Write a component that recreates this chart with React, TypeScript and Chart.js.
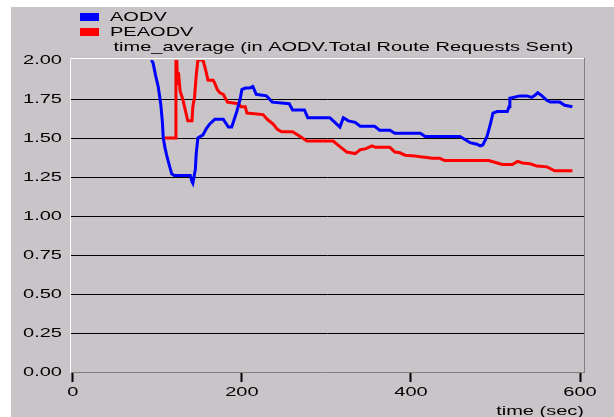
import { useEffect, useRef } from 'react';
import { Chart, registerables } from 'chart.js';

Chart.register(...registerables);

// ---- data ----
const aodvX = [93, 95, 98, 101, 104, 106, 107, 109, 111, 114, 117, 120, 139, 141, 142, 143, 145, 146, 148, 154, 158, 162, 168, 178, 184, 188, 194, 198, 200, 204, 209, 213, 217, 229, 236, 256, 260, 274, 278, 304, 310, 316, 320, 326, 334, 340, 357, 363, 375, 381, 411, 417, 458, 464, 470, 478, 482, 485, 490, 494, 497, 502, 514, 516, 517, 529, 537, 543, 547, 550, 555, 561, 565, 576, 582, 591];
const aodvY = [2.0, 1.98, 1.9, 1.83, 1.72, 1.6, 1.5, 1.44, 1.39, 1.33, 1.27, 1.26, 1.26, 1.22, 1.21, 1.24, 1.3, 1.4, 1.5, 1.52, 1.56, 1.59, 1.62, 1.62, 1.57, 1.57, 1.67, 1.75, 1.81, 1.82, 1.82, 1.83, 1.78, 1.77, 1.73, 1.72, 1.68, 1.68, 1.63, 1.63, 1.6, 1.57, 1.63, 1.61, 1.6, 1.575, 1.575, 1.55, 1.55, 1.53, 1.53, 1.51, 1.51, 1.49, 1.47, 1.46, 1.45, 1.455, 1.51, 1.59, 1.66, 1.67, 1.67, 1.7, 1.755, 1.77, 1.77, 1.76, 1.775, 1.79, 1.77, 1.74, 1.73, 1.73, 1.71, 1.7];
const peaodvX = [107, 121, 122, 123, 124, 125, 127, 130, 133, 136, 141, 142, 144, 146, 148, 154, 157, 160, 166, 168, 171, 174, 178, 182, 183, 196, 199, 204, 206, 225, 230, 237, 242, 247, 260, 269, 277, 308, 316, 324, 334, 340, 346, 354, 358, 375, 381, 387, 393, 405, 411, 419, 425, 434, 440, 492, 502, 508, 520, 526, 532, 541, 549, 561, 570, 591];
const peaodvY = [1.5, 1.5, 2.0, 2.0, 1.84, 1.92, 1.8, 1.75, 1.68, 1.61, 1.61, 1.7, 1.76, 1.9, 2.0, 2.0, 1.94, 1.87, 1.87, 1.85, 1.81, 1.79, 1.78, 1.74, 1.73, 1.72, 1.7, 1.7, 1.66, 1.65, 1.62, 1.59, 1.555, 1.54, 1.54, 1.51, 1.48, 1.48, 1.445, 1.41, 1.4, 1.425, 1.43, 1.45, 1.44, 1.44, 1.41, 1.405, 1.39, 1.385, 1.38, 1.375, 1.37, 1.37, 1.355, 1.355, 1.34, 1.33, 1.33, 1.35, 1.34, 1.335, 1.32, 1.315, 1.29, 1.29];

const seriesNames = ['AODV', 'PEAODV'];
const seriesColors = ['#0000ff', '#ff0000'];
const xTickValues = [0, 200, 400, 600];
const yTickValues = [0, 0.25, 0.5, 0.75, 1.0, 1.25, 1.5, 1.75, 2.0];
const chartTitle = 'time_average (in AODV.Total Route Requests Sent)';
const xAxisTitle = 'time (sec)';

const FONT = "'Liberation Sans', Arial, sans-serif";
const STRETCH = 1.54;
const BG = '#c8c4c8';

const decorPlugin = {
  id: 'decor',
  afterDraw(chart: any) {
    const { ctx, chartArea } = chart;
    ctx.save();
    // frame: top (light) and right (dark)
    ctx.lineWidth = 1;
    ctx.strokeStyle = '#ffffff';
    ctx.beginPath();
    ctx.moveTo(chartArea.left, chartArea.top - 1.5);
    ctx.lineTo(chartArea.right, chartArea.top - 1.5);
    ctx.stroke();
    ctx.strokeStyle = '#808080';
    ctx.beginPath();
    ctx.moveTo(chartArea.right + 0.5, chartArea.top - 2);
    ctx.lineTo(chartArea.right + 0.5, chartArea.bottom + 0.5);
    ctx.stroke();
    // legend
    ctx.font = `13px ${FONT}`;
    ctx.textBaseline = 'middle';
    ctx.textAlign = 'left';
    chart.data.datasets.forEach((ds: any, i: number) => {
      ctx.fillStyle = ds.borderColor;
      ctx.fillRect(69, 6 + i * 15, 19, 8);
      ctx.fillStyle = '#000';
      ctx.fillText(ds.label, 99, 10.5 + i * 15);
    });
    ctx.fillText(chartTitle, 102.5, 40);
    ctx.restore();
  },
};

export default function App() {
  const ref = useRef<HTMLCanvasElement | null>(null);
  useEffect(() => {
    const canvas = ref.current!;
    const ctx = canvas.getContext('2d')!;
    const orig = CanvasRenderingContext2D.prototype.fillText;
    (ctx as any).fillText = function (text: string, x: number, y: number, maxWidth?: number) {
      this.save();
      this.translate(x, y);
      this.scale(STRETCH, 1);
      if (maxWidth === undefined || maxWidth === null) orig.call(this, text, 0, 0);
      else orig.call(this, text, 0, 0, maxWidth / STRETCH);
      this.restore();
    };
    const chart = new Chart(ctx, {
      type: 'line',
      data: {
        datasets: [
          {
            label: seriesNames[0],
            data: aodvX.map((x, i) => ({ x, y: aodvY[i] })),
            borderColor: seriesColors[0],
            backgroundColor: seriesColors[0],
            borderWidth: 3,
            pointRadius: 0,
            tension: 0,
            fill: false,
          },
          {
            label: seriesNames[1],
            data: peaodvX.map((x, i) => ({ x, y: peaodvY[i] })),
            borderColor: seriesColors[1],
            backgroundColor: seriesColors[1],
            borderWidth: 3,
            pointRadius: 0,
            tension: 0,
            fill: false,
          },
        ],
      },
      options: {
        responsive: false,
        animation: false,
        devicePixelRatio: 1,
        events: [],
        layout: { padding: { left: 0, top: 53, right: 30, bottom: 0 }, autoPadding: false },
        plugins: { legend: { display: false }, tooltip: { enabled: false }, title: { display: false } },
        scales: {
          x: {
            type: 'linear',
            min: -3.3,
            max: 604.7,
            afterBuildTicks: (s: any) => {
              s.ticks = xTickValues.map((v) => ({ value: v }));
            },
            afterFit: (s: any) => {
              s.height = 45;
            },
            grid: { drawOnChartArea: false, drawTicks: true, tickLength: 10, tickWidth: 2, tickColor: '#000' },
            border: { color: '#808080', width: 1 },
            ticks: { color: '#000', font: { family: FONT, size: 13 }, padding: 3, maxRotation: 0, autoSkip: false },
            title: {
              display: true,
              text: xAxisTitle,
              align: 'end',
              color: '#000',
              font: { family: FONT, size: 13, lineHeight: 0.8 },
              padding: 0,
            },
          },
          y: {
            type: 'linear',
            min: 0,
            max: 2,
            afterBuildTicks: (s: any) => {
              s.ticks = yTickValues.map((v) => ({ value: v }));
            },
            afterFit: (s: any) => {
              s.width = 59;
            },
            grid: {
              drawTicks: false,
              lineWidth: 1,
              color: (c: any) => (c.tick && (c.tick.value === 0 || c.tick.value === 2) ? 'rgba(0,0,0,0)' : '#000'),
            },
            border: { color: '#ffffff', width: 1 },
            ticks: {
              color: '#000',
              padding: 8,
              font: { family: FONT, size: 13 },
              callback: (v: any) => Number(v).toFixed(2),
            },
          },
        },
      },
      plugins: [decorPlugin],
    } as any);
    return () => {
      chart.destroy();
    };
  }, []);
  return (
    <div style={{ position: 'absolute', left: 11, top: 7, width: 603, height: 410, background: BG }}>
      <canvas ref={ref} width={603} height={410} style={{ display: 'block', width: 603, height: 410 }} />
    </div>
  );
}
